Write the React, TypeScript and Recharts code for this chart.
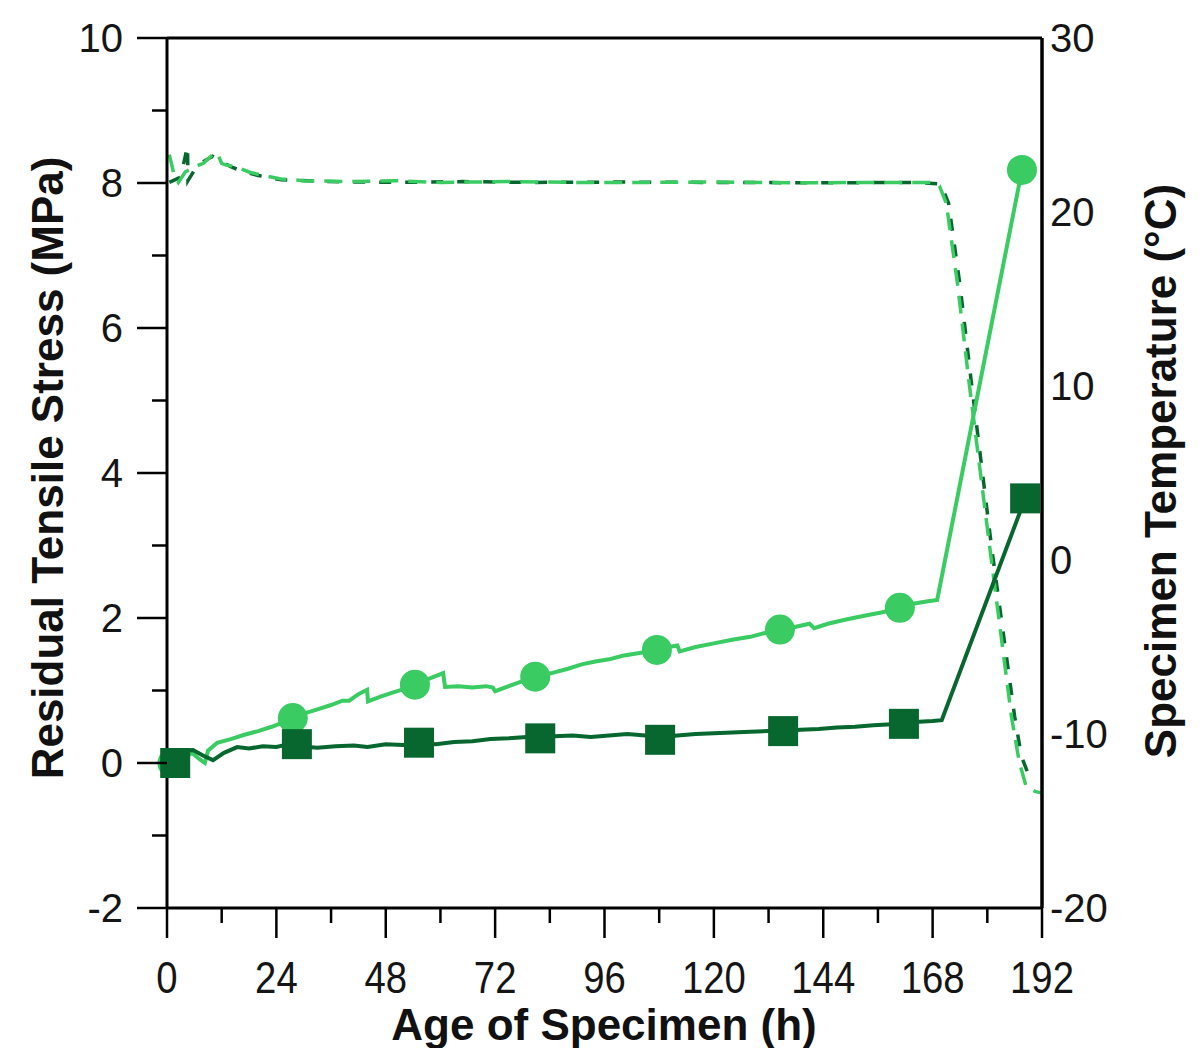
import { ComposedChart, Line, XAxis, YAxis } from 'recharts';

const LIGHT = '#3acb62';
const DARK = '#07672f';
const FONT = '"Liberation Sans", Arial, sans-serif';

// hour ticks (every 12 h, labelled every 24 h)
const hourTicks = [0, 12, 24, 36, 48, 60, 72, 84, 96, 108, 120, 132, 144, 156, 168, 180, 192];
const stressTicks = [-2, -1, 0, 1, 2, 3, 4, 5, 6, 7, 8, 9, 10];
const tempTicks = [-20, -10, 0, 10, 20, 30];

// residual tensile stress, specimen A (MPa)
const stressA: [number, number][] = [
  [0.5, 0.0], [3, 0.06], [5.5, 0.14], [7, 0.06], [8.3, 0.0], [9, 0.17], [11, 0.28], [14, 0.33],
  [17, 0.39], [20, 0.44], [23, 0.5], [25, 0.55], [27.6, 0.63], [30, 0.68], [33, 0.74], [36, 0.8],
  [38.5, 0.86], [40, 0.86], [42, 0.95], [43.9, 1.01], [44.1, 0.85], [47, 0.92], [50, 0.98],
  [52, 1.02], [54.4, 1.08], [57, 1.15], [60.6, 1.24], [61, 1.05], [64, 1.06], [67, 1.04],
  [70, 1.06], [71.5, 1.04], [72, 0.99], [75, 1.06], [78, 1.13], [81.2, 1.19], [85, 1.25],
  [88, 1.3], [91, 1.36], [94, 1.4], [97, 1.43], [100, 1.48], [104, 1.52], [107.5, 1.56],
  [110, 1.6], [112, 1.62], [112.5, 1.54], [116, 1.6], [120, 1.65], [124, 1.7], [128, 1.74],
  [131, 1.79], [134.5, 1.83], [138, 1.88], [141, 1.92], [142, 1.86], [145, 1.92], [149, 1.98],
  [153, 2.03], [157, 2.08], [160.8, 2.14], [164, 2.2], [167, 2.23], [169, 2.25], [187.6, 8.18],
];

// residual tensile stress, specimen B (MPa)
const stressB: [number, number][] = [
  [0.5, 0.02], [3, 0.17], [5.7, 0.18], [8, 0.1], [10.1, 0.04], [12.5, 0.14], [15.4, 0.22],
  [18, 0.2], [21, 0.23], [24, 0.22], [26, 0.25], [28.5, 0.26], [31, 0.22], [33, 0.21],
  [37, 0.23], [41, 0.24], [44, 0.22], [48, 0.26], [51.8, 0.25], [55.3, 0.28], [59, 0.26],
  [63, 0.29], [67, 0.3], [71, 0.33], [75, 0.34], [79, 0.36], [81.9, 0.35], [85, 0.37],
  [89, 0.38], [93, 0.36], [97, 0.38], [101, 0.4], [105, 0.38], [108.2, 0.36], [112, 0.38],
  [116, 0.4], [120, 0.41], [124, 0.42], [128, 0.43], [132, 0.44], [135.2, 0.44], [139, 0.46],
  [143, 0.47], [147, 0.49], [151, 0.5], [155, 0.52], [158, 0.53], [161.7, 0.54], [165, 0.57],
  [168, 0.58], [170, 0.59], [188.3, 3.65],
];

// measured points marked on each stress curve
const markA: [number, number][] = [
  [1.2, 0], [27.6, 0.62], [54.4, 1.08], [80.8, 1.19], [107.5, 1.56], [134.5, 1.84], [160.8, 2.14], [187.6, 8.18],
];
const markB: [number, number][] = [
  [1.8, 0], [28.5, 0.26], [55.3, 0.28], [81.9, 0.34], [108.2, 0.32], [135.2, 0.44], [161.7, 0.54], [188.3, 3.65],
];

// specimen temperature (°C)
const tempA: [number, number][] = [
  [0.5, 23.3], [1.5, 22.2], [2.5, 21.7], [4, 22.3], [6, 22.6], [8, 22.8], [10, 23.3], [11, 23.4],
  [12, 22.8], [13, 22.7], [15, 22.6], [18, 22.3], [21, 22.1], [25, 21.9], [30, 21.8], [40, 21.75],
  [50, 21.8], [60, 21.7], [75, 21.75], [90, 21.7], [105, 21.7], [120, 21.72], [140, 21.68],
  [160, 21.7], [168, 21.7], [169.5, 21.5], [171, 20.5], [173.5, 15.8], [176, 10.2], [180.5, 0.8],
  [185.3, -9], [187, -11.6], [188.5, -13.0], [190.5, -13.3], [192, -13.4],
];
const tempB: [number, number][] = [
  [0.5, 21.7], [3, 22.0], [4.5, 23.8], [4.6, 21.8], [6, 22.4], [8, 22.9], [10, 23.2], [12, 22.9],
  [14, 22.6], [17, 22.3], [20, 22.1], [25, 21.85], [35, 21.75], [50, 21.7], [65, 21.75],
  [80, 21.7], [100, 21.72], [120, 21.7], [145, 21.68], [165, 21.7], [169.8, 21.6], [171.5, 20.5],
  [174, 15.8], [176.5, 10.2], [181, 0.6], [186, -9.0], [187.5, -11.3], [189, -12.3],
];

const rows = (pts: [number, number][]) => pts.map(([h, v]) => ({ h, v }));

const BottomTick = (p: any) => {
  const { x, y, payload } = p;
  const major = payload.value % 24 === 0;
  return (
    <g>
      <line x1={x} x2={x} y1={y} y2={y + (major ? 30 : 15)} stroke="#000" strokeWidth={2.5} />
      {major && (
        <text transform={`translate(${x},${y + 85}) scale(0.87,1)`} textAnchor="middle"
          fontSize={44} fontFamily={FONT} fill="#151515">{payload.value}</text>
      )}
    </g>
  );
};

const TopTick = (p: any) => {
  const { x, y, payload } = p;
  const major = payload.value % 24 === 0;
  return <line x1={x} x2={x} y1={y} y2={y - (major ? 28 : 14)} stroke="#000" strokeWidth={2.5} />;
};

const LeftTick = (p: any) => {
  const { x, y, payload } = p;
  const major = payload.value % 2 === 0;
  return (
    <g>
      <line x1={x} x2={x - (major ? 30 : 15)} y1={y} y2={y} stroke="#000" strokeWidth={2.5} />
      {major && (
        <text x={x - 44} y={y + 14} textAnchor="end" fontSize={40} fontFamily={FONT} fill="#151515">
          {payload.value}
        </text>
      )}
    </g>
  );
};

const RightTick = (p: any) => {
  const { x, y, payload } = p;
  return (
    <text x={x + 8} y={y + 14} textAnchor="start" fontSize={40} fontFamily={FONT} fill="#151515">
      {payload.value}
    </text>
  );
};

const Square = (p: any) => {
  const { cx, cy, index } = p;
  return <rect key={`s${index}`} x={cx - 15} y={cy - 15} width={30} height={30} fill={DARK} />;
};

const Dot = (p: any) => {
  const { cx, cy, index } = p;
  return <circle key={`c${index}`} cx={cx} cy={cy} r={15} fill={LIGHT} />;
};

export default function App() {
  return (
    <div style={{ position: 'absolute', left: 0, top: 0, width: 1201, height: 1048, background: '#fff' }}>
      <ComposedChart width={1201} height={1048} margin={{ top: 0, right: 0, bottom: 0, left: 0 }}>
        <XAxis xAxisId="b" dataKey="h" type="number" domain={[0, 192]} ticks={hourTicks}
          orientation="bottom" height={140} tickSize={0} tickMargin={0} tick={BottomTick}
          axisLine={{ stroke: '#000', strokeWidth: 3 }} tickLine={false} interval={0}
          label={{
            content: () => (
              <text x={604} y={1040} textAnchor="middle" fontSize={44} fontWeight="bold"
                fontFamily={FONT} fill="#111">Age of Specimen (h)</text>
            ),
          }} />
        <XAxis xAxisId="t" dataKey="h" type="number" domain={[0, 192]} ticks={hourTicks}
          orientation="top" height={38} tickSize={0} tickMargin={0} tick={TopTick}
          axisLine={{ stroke: '#000', strokeWidth: 3 }} tickLine={false} interval={0} />
        <YAxis yAxisId="s" type="number" domain={[-2, 10]} ticks={stressTicks} orientation="left"
          width={167} tickSize={0} tickMargin={0} tick={LeftTick} interval={0}
          axisLine={{ stroke: '#000', strokeWidth: 3 }} tickLine={false}
          label={{
            content: () => (
              <text transform="translate(63,468) rotate(-90)" textAnchor="middle" fontSize={44}
                fontWeight="bold" fontFamily={FONT} fill="#111">Residual Tensile Stress (MPa)</text>
            ),
          }} />
        <YAxis yAxisId="c" type="number" domain={[-20, 30]} ticks={tempTicks} orientation="right"
          width={159} tickSize={0} tickMargin={0} tick={RightTick} interval={0}
          axisLine={{ stroke: '#000', strokeWidth: 3.5 }} tickLine={false}
          label={{
            content: () => (
              <text transform="translate(1176,471) rotate(-90)" textAnchor="middle" fontSize={44}
                fontWeight="bold" fontFamily={FONT} fill="#111">Specimen Temperature (°C)</text>
            ),
          }} />

        <Line xAxisId="b" yAxisId="c" data={rows(tempB)} dataKey="v" type="linear" stroke={DARK}
          strokeWidth={3.5} strokeDasharray="12 14" dot={false} activeDot={false} isAnimationActive={false} />
        <Line xAxisId="b" yAxisId="c" data={rows(tempA)} dataKey="v" type="linear" stroke={LIGHT}
          strokeWidth={3.5} strokeDasharray="18 10" dot={false} activeDot={false} isAnimationActive={false} />
        <Line xAxisId="b" yAxisId="s" data={rows(stressA)} dataKey="v" type="linear" stroke={LIGHT}
          strokeWidth={4} dot={false} activeDot={false} isAnimationActive={false} />
        <Line xAxisId="b" yAxisId="s" data={rows(stressB)} dataKey="v" type="linear" stroke={DARK}
          strokeWidth={4} dot={false} activeDot={false} isAnimationActive={false} />
        <Line xAxisId="b" yAxisId="s" data={rows(markA)} dataKey="v" stroke="none" dot={Dot}
          activeDot={false} isAnimationActive={false} />
        <Line xAxisId="b" yAxisId="s" data={rows(markB)} dataKey="v" stroke="none" dot={Square}
          activeDot={false} isAnimationActive={false} />
      </ComposedChart>
    </div>
  );
}
